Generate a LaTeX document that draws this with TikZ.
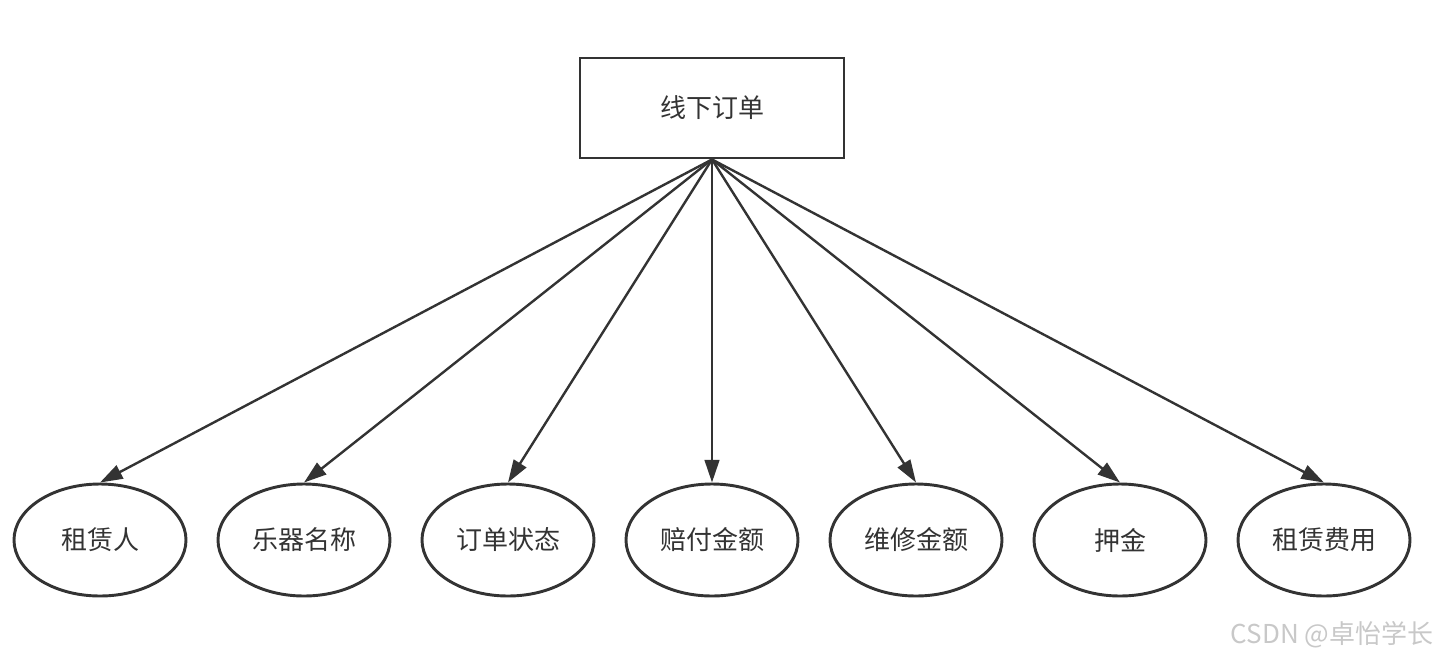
\documentclass[tikz,border=0pt]{standalone}
\usepackage{fontspec}
\newfontfamily\cjk{Noto Sans CJK SC}
\usetikzlibrary{arrows.meta,shapes.geometric}
\definecolor{ink}{HTML}{333333}
\definecolor{wm}{HTML}{C8C8C8}
\begin{document}
\begin{tikzpicture}[x=0.75pt,y=-0.75pt,
  box/.style={draw=ink,line width=2.2pt,rectangle,minimum width=264*0.75pt,minimum height=100*0.75pt,inner sep=0pt,font=\cjk\fontsize{19.5}{21}\selectfont,text=ink},
  attr/.style={draw=ink,line width=2.2pt,ellipse,minimum width=172*0.75pt,minimum height=112*0.75pt,inner sep=0pt,font=\cjk\fontsize{19.5}{21}\selectfont,text=ink},
  link/.style={draw=ink,line width=1.8pt,-{Triangle[length=17pt,width=11pt]}}]
\useasboundingbox (0,0) rectangle (1443,661);
\node[box] (top) at (712,108) {线下订单};
\node[attr] (a1) at (100,540) {租赁人};
\node[attr] (a2) at (304,540) {乐器名称};
\node[attr] (a3) at (508,540) {订单状态};
\node[attr] (a4) at (712,540) {赔付金额};
\node[attr] (a5) at (916,540) {维修金额};
\node[attr] (a6) at (1120,540) {押金};
\node[attr] (a7) at (1324,540) {租赁费用};
\foreach \n in {a1,a2,a3,a4,a5,a6,a7}{
  \draw[link] (top.south) -- (\n.north);
}
\node[font=\cjk\fontsize{19.5}{21}\selectfont,text=wm,anchor=east] (wm) at (1438,635) {CSDN @卓怡学长};
\end{tikzpicture}
\end{document}
